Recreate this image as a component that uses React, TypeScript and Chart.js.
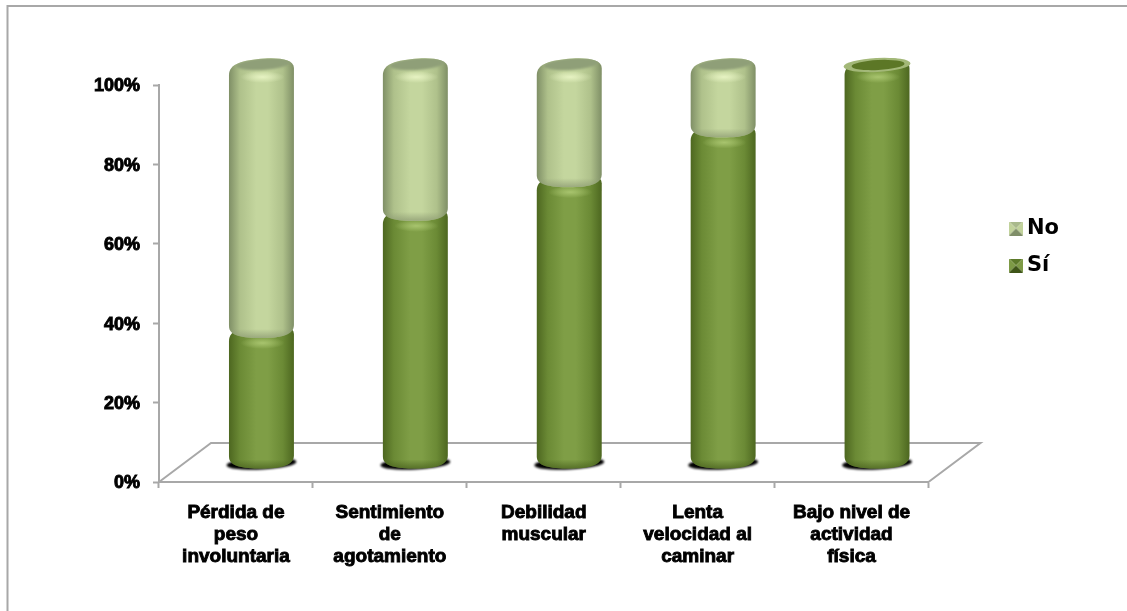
import React, { useEffect, useRef } from "react";
import { Chart, registerables } from "chart.js";

Chart.register(...registerables);

const categories: string[][] = [
  ["Pérdida de", "peso", "involuntaria"],
  ["Sentimiento", "de", "agotamiento"],
  ["Debilidad", "muscular"],
  ["Lenta", "velocidad al", "caminar"],
  ["Bajo nivel de", "actividad", "física"],
];
const siValues = [33, 62.5, 71, 83.5, 100];
const noValues = [67, 37.5, 29, 16.5, 0];
const yTicksMax = 100;
const yTicksStep = 20;

const AXIS_GREY = "#a8a8a8";
const FONT = "'Liberation Sans', Arial, sans-serif";

// Oblique projection of the cylinders and the floor.
const FLOOR_DX = 52;
const FLOOR_DY = -39;
const BAR_DX = 25.5;
const BAR_DY = -20;
const CAP_RY = 7;

type Tone = { edge: string; mid: string; core: string; cap: string; glow: string; foot: string };
const SI_TONE: Tone = {
  edge: "#4d6720",
  mid: "#6b8a35",
  core: "#7f9e46",
  cap: "#6d8a35",
  glow: "rgba(170,198,112,0.95)",
  foot: "rgba(70,94,28,0.7)",
};
const NO_TONE: Tone = {
  edge: "#7f8f66",
  mid: "#afc18b",
  core: "#c4d69e",
  cap: "#8f9f78",
  glow: "rgba(232,244,196,0.95)",
  foot: "rgba(140,154,114,0.75)",
};

function silhouette(ctx: CanvasRenderingContext2D, x: number, w: number, top: number, bottom: number) {
  const l = x - w / 2;
  const r = x + w / 2;
  ctx.beginPath();
  ctx.moveTo(l, top + 10);
  ctx.bezierCurveTo(l, top - 1, x - w * 0.3, top - 5, x + 3, top - 6.5);
  ctx.bezierCurveTo(x + w * 0.3, top - 7.5, r, top - 5, r, top + 3);
  ctx.lineTo(r, bottom - 6);
  ctx.bezierCurveTo(r, bottom + 4, x + w * 0.3, bottom + CAP_RY, x, bottom + CAP_RY);
  ctx.bezierCurveTo(x - w * 0.3, bottom + CAP_RY, l, bottom + 5, l, bottom - 5);
  ctx.closePath();
}

function softEllipse(ctx: CanvasRenderingContext2D, x: number, y: number, rx: number, ry: number, color: string) {
  ctx.save();
  ctx.translate(x, y);
  ctx.scale(rx, ry);
  const g = ctx.createRadialGradient(0, 0, 0, 0, 0, 1);
  g.addColorStop(0, color);
  g.addColorStop(1, color.replace(/[\d.]+\)$/, "0)"));
  ctx.fillStyle = g;
  ctx.beginPath();
  ctx.arc(0, 0, 1, 0, Math.PI * 2);
  ctx.fill();
  ctx.restore();
}

function drawCylinder(
  ctx: CanvasRenderingContext2D,
  x: number,
  w: number,
  top: number,
  bottom: number,
  tone: Tone,
  openTop: boolean
) {
  const l = x - w / 2;
  const r = x + w / 2;
  ctx.save();
  silhouette(ctx, x, w, top, bottom);
  const body = ctx.createLinearGradient(l, 0, r, 0);
  body.addColorStop(0, tone.edge);
  body.addColorStop(0.17, tone.mid);
  body.addColorStop(0.42, tone.core);
  body.addColorStop(0.6, tone.core);
  body.addColorStop(0.83, tone.mid);
  body.addColorStop(1, tone.edge);
  ctx.fillStyle = body;
  ctx.fill();
  ctx.clip();

  // Darkened rim round the foot of the segment.
  const foot = ctx.createLinearGradient(0, bottom - 2, 0, bottom + CAP_RY);
  foot.addColorStop(0, tone.foot.replace(/[\d.]+\)$/, "0)"));
  foot.addColorStop(1, tone.foot);
  ctx.fillStyle = foot;
  ctx.fillRect(l, bottom - 2, w, CAP_RY + 2);

  // Upper face and the sheen just below its front edge.
  softEllipse(ctx, x + 1, top + 12, w * 0.34, 6, tone.glow);
  ctx.filter = "blur(1.2px)";
  ctx.fillStyle = tone.cap;
  ctx.beginPath();
  ctx.ellipse(x + 2, top - 1, w / 2 - 5, CAP_RY - 1, -0.07, 0, Math.PI * 2);
  ctx.fill();
  ctx.filter = "none";
  ctx.restore();

  if (openTop) {
    ctx.save();
    ctx.fillStyle = "#a3b878";
    ctx.beginPath();
    ctx.ellipse(x, top, w / 2 + 1, CAP_RY, -0.05, 0, Math.PI * 2);
    ctx.fill();
    ctx.fillStyle = "#5c7726";
    ctx.beginPath();
    ctx.ellipse(x + 1, top, w / 2 - 6, CAP_RY - 2, -0.05, 0, Math.PI * 2);
    ctx.fill();
    ctx.restore();
  }
}

function swatch(light: string, dark: string, centre: string): HTMLCanvasElement {
  const c = document.createElement("canvas");
  c.width = 14;
  c.height = 14;
  const g = c.getContext("2d") as CanvasRenderingContext2D;
  const tri = (color: string, pts: number[]) => {
    g.fillStyle = color;
    g.beginPath();
    g.moveTo(pts[0], pts[1]);
    g.lineTo(pts[2], pts[3]);
    g.lineTo(7, 7);
    g.closePath();
    g.fill();
  };
  tri(light, [0, 0, 14, 0]);
  tri(dark, [0, 0, 0, 14]);
  tri(dark, [14, 0, 14, 14]);
  tri(centre, [0, 14, 14, 14]);
  return c;
}

const cylinderPlugin = {
  id: "cylinders",
  beforeDraw(chart: any) {
    // Outer frame, open at the right and bottom of the canvas.
    const { ctx, width, height } = chart;
    ctx.save();
    ctx.strokeStyle = AXIS_GREY;
    ctx.lineWidth = 2;
    ctx.beginPath();
    ctx.moveTo(7.5, height);
    ctx.lineTo(7.5, 6);
    ctx.lineTo(width, 6);
    ctx.stroke();
    ctx.restore();
  },
  beforeDatasetsDraw(chart: any) {
    // Floor parallelogram behind the cylinders.
    const { ctx, chartArea: a } = chart;
    ctx.save();
    ctx.strokeStyle = AXIS_GREY;
    ctx.lineWidth = 2;
    ctx.beginPath();
    ctx.moveTo(a.left, a.bottom);
    ctx.lineTo(a.left + FLOOR_DX, a.bottom + FLOOR_DY);
    ctx.lineTo(a.right + FLOOR_DX, a.bottom + FLOOR_DY);
    ctx.lineTo(a.right, a.bottom);
    ctx.stroke();
    ctx.restore();
  },
  beforeDatasetDraw() {
    return false;
  },
  afterDatasetsDraw(chart: any) {
    const { ctx } = chart;
    const si = chart.getDatasetMeta(0).data;
    const no = chart.getDatasetMeta(1).data;
    ctx.save();
    ctx.translate(BAR_DX, BAR_DY);

    si.forEach((el: any) => {
      ctx.save();
      ctx.filter = "blur(1px)";
      ctx.fillStyle = "#000";
      ctx.beginPath();
      ctx.ellipse(el.x, el.base + 2, el.width / 2 + 2.5, CAP_RY - 1, -0.05, 0, Math.PI * 2);
      ctx.fill();
      ctx.restore();
    });
    si.forEach((el: any, i: number) => {
      drawCylinder(ctx, el.x, el.width, el.y, el.base, SI_TONE, noValues[i] === 0);
    });
    no.forEach((el: any, i: number) => {
      if (noValues[i] > 0) drawCylinder(ctx, el.x, el.width, el.y, el.base, NO_TONE, false);
    });
    ctx.restore();
  },
  afterLayout(chart: any) {
    // Seat the legend to the right of the floor, beside the upper half of the plot.
    const legend = chart.legend;
    if (legend) {
      legend.left = 999.5;
      legend.right = 1127;
      legend.top = 202;
      legend.bottom = 300;
    }
  },
};

export default function App() {
  const ref = useRef<HTMLCanvasElement>(null);

  useEffect(() => {
    document.body.style.margin = "0";
    const marks = [swatch("#5d7a2a", "#7d9a45", "#3f5518"), swatch("#a9b98c", "#c1d29b", "#7f8e68")];
    const chart = new Chart(ref.current as HTMLCanvasElement, {
      type: "bar",
      data: {
        labels: categories,
        datasets: [
          { label: "Sí", data: siValues, backgroundColor: "#7f9f45", barPercentage: 0.422, categoryPercentage: 1 },
          { label: "No", data: noValues, backgroundColor: "#c3d69b", barPercentage: 0.422, categoryPercentage: 1 },
        ],
      },
      options: {
        animation: false,
        responsive: false,
        layout: { padding: { top: 85, right: 129, bottom: 0, left: 0 } },
        plugins: {
          title: { display: false },
          tooltip: { enabled: false },
          legend: {
            position: "right",
            align: "start",
            reverse: true,
            labels: {
              color: "#000",
              font: { family: "'DejaVu Sans', sans-serif", size: 21, weight: "bold" },
              padding: 16,
              boxWidth: 14,
              boxHeight: 14,
              usePointStyle: true,
              pointStyleWidth: 1,
              generateLabels: (c: any) =>
                c.data.datasets.map((d: any, i: number) => ({
                  text: d.label,
                  datasetIndex: i,
                  pointStyle: marks[i],
                  fontColor: "#000",
                  lineWidth: 0,
                })),
            },
          },
        },
        scales: {
          x: {
            stacked: true,
            afterFit: (s: any) => {
              s.height = 129;
            },
            border: { color: AXIS_GREY, width: 2 },
            grid: { drawOnChartArea: false, drawTicks: true, tickLength: 6, tickColor: AXIS_GREY, tickWidth: 2 },
            ticks: {
              color: "#000",
              maxRotation: 0,
              autoSkip: false,
              padding: 14,
              font: { family: FONT, size: 19, weight: "bold", lineHeight: 1.16 },
              textStrokeColor: "#000",
              textStrokeWidth: 0.9,
            },
          },
          y: {
            stacked: true,
            min: 0,
            max: yTicksMax,
            afterFit: (s: any) => {
              s.width = 159;
            },
            border: { color: AXIS_GREY, width: 2 },
            grid: { drawOnChartArea: false, drawTicks: true, tickLength: 6, tickColor: AXIS_GREY, tickWidth: 2 },
            ticks: {
              stepSize: yTicksStep,
              color: "#000",
              padding: 13,
              labelOffset: 1.5,
              font: { family: FONT, size: 18, weight: "bold" },
              textStrokeColor: "#000",
              textStrokeWidth: 0.9,
              callback: (v: any) => `${v}%`,
            },
          },
        },
      },
      plugins: [cylinderPlugin],
    } as any);
    return () => chart.destroy();
  }, []);

  return <canvas ref={ref} width={1127} height={611} style={{ display: "block" }} />;
}
